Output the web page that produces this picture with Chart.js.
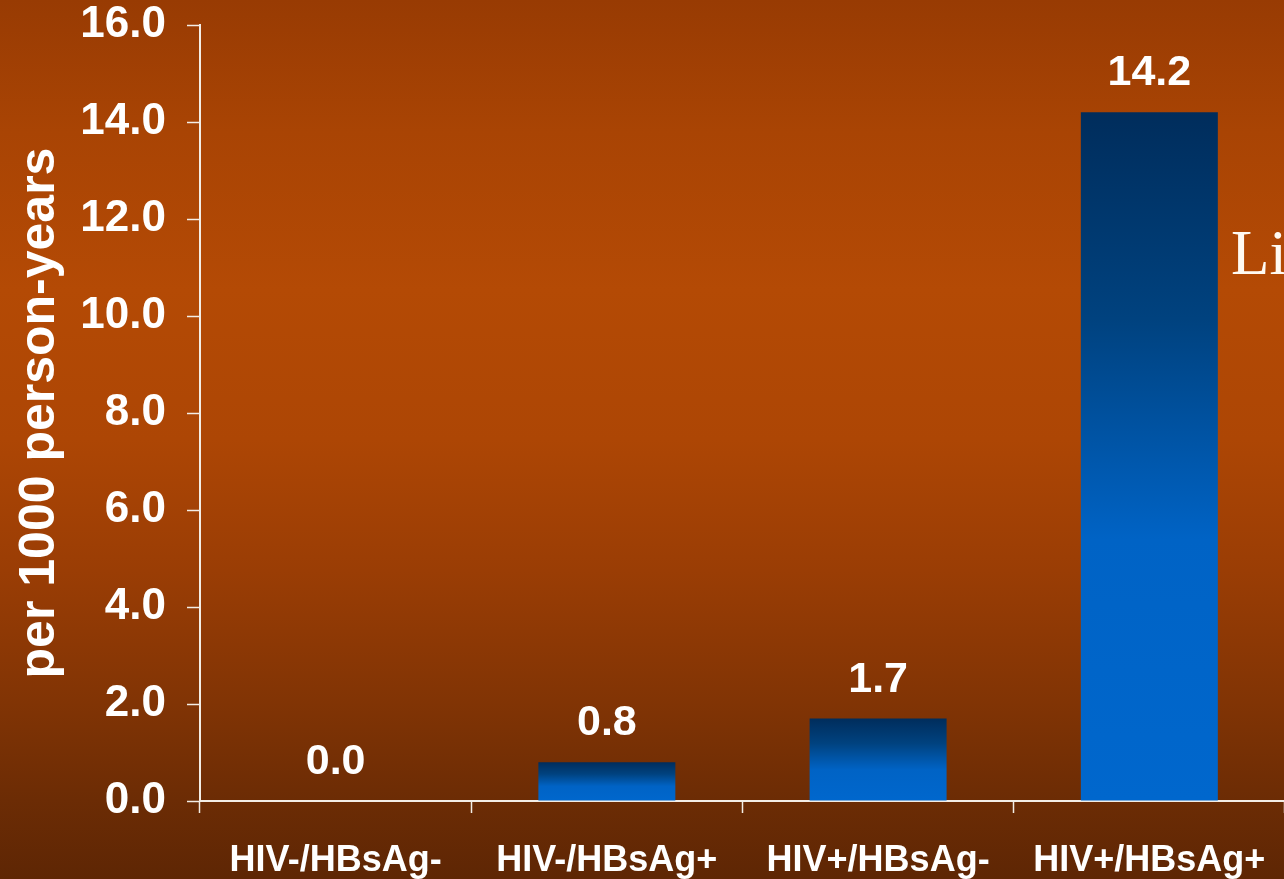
<!DOCTYPE html>
<html>
<head>
<meta charset="utf-8">
<script src="https://cdn.jsdelivr.net/npm/chart.js@4.4.1/dist/chart.umd.min.js"></script>
<style>
  html, body { margin: 0; padding: 0; overflow: hidden; width: 1284px; height: 879px; }
  body {
    background: linear-gradient(to bottom,
      #983b03 0%, #a94404 15%, #b44a05 33%, #ad4605 50%, #9a3d05 65%,
      #813405 80%, #6c2c05 91%, #5e2604 100%);
  }
  #wrap { position: absolute; left: 0; top: 0; width: 1292px; height: 879px; }
</style>
</head>
<body>
<div id="wrap"><canvas id="chart"></canvas></div>
<script>
// Incidence per 1000 person-years by HIV / HBsAg status
const categories = ['HIV-/HBsAg-', 'HIV-/HBsAg+', 'HIV+/HBsAg-', 'HIV+/HBsAg+'];
const rates = [0.0, 0.8, 1.7, 14.2];
const yTicks = [0, 2, 4, 6, 8, 10, 12, 14, 16];
const yTitle = 'per 1000 person-years';
const sideText = 'Li';

const FONT = '"Liberation Sans", Arial, Helvetica, sans-serif';
const INK = '#ffffff';
const AXIS = '#f3ede6';

// Vertical navy-to-blue fill for each bar, spanning the bar's own height
function barFill(context) {
  const chart = context.chart;
  const area = chart.chartArea;
  if (!area) return '#0066cc';
  const y = chart.scales.y;
  const v = context.raw;
  const top = y.getPixelForValue(v);
  const base = y.getPixelForValue(0);
  if (!(base - top > 0.5)) return '#0066cc';
  const g = chart.ctx.createLinearGradient(0, top, 0, base);
  g.addColorStop(0, '#002d5c');
  g.addColorStop(0.3, '#00427f');
  g.addColorStop(0.62, '#0063c5');
  g.addColorStop(1, '#0067cd');
  return g;
}

// Value labels above bars, plus the stray caption at the right edge
const valueLabels = {
  id: 'valueLabels',
  afterDatasetsDraw(chart) {
    const ctx = chart.ctx;
    const meta = chart.getDatasetMeta(0);
    const y = chart.scales.y;
    ctx.save();
    ctx.fillStyle = INK;
    ctx.font = 'bold 43px ' + FONT;
    ctx.textAlign = 'center';
    ctx.textBaseline = 'alphabetic';
    meta.data.forEach((bar, i) => {
      const v = rates[i];
      const top = y.getPixelForValue(v);
      ctx.fillText(v.toFixed(1), bar.x, top - 27);
    });
    ctx.fillStyle = '#fffaf2';
    ctx.font = '63px "Liberation Serif", "Times New Roman", serif';
    ctx.textAlign = 'left';
    ctx.fillText(sideText, 1231, 274);
    ctx.restore();
  }
};

new Chart(document.getElementById('chart'), {
  type: 'bar',
  data: {
    labels: categories,
    datasets: [{
      data: rates,
      backgroundColor: barFill,
      borderWidth: 0,
      categoryPercentage: 1.0,
      barPercentage: 0.505
    }]
  },
  options: {
    responsive: true,
    maintainAspectRatio: false,
    animation: false,
    events: [],
    layout: { padding: { top: 25, right: 5, left: 0, bottom: 0 } },
    plugins: {
      legend: { display: false },
      tooltip: { enabled: false }
    },
    scales: {
      x: {
        offset: true,
        afterFit(scale) { scale.height = 78; },
        grid: {
          display: true,
          offset: true,
          drawOnChartArea: false,
          drawTicks: true,
          tickLength: 12,
          tickWidth: 1.5,
          tickColor: AXIS
        },
        border: { display: true, color: AXIS, width: 2 },
        ticks: {
          color: INK,
          font: { family: FONT, size: 36, weight: 'bold' },
          padding: 26,
          maxRotation: 0,
          autoSkip: false
        }
      },
      y: {
        min: 0,
        max: 16,
        afterFit(scale) {
          scale.width = 200;
          scale.paddingTop = 0;
          scale.paddingBottom = 0;
        },
        afterBuildTicks(scale) { scale.ticks = yTicks.map(v => ({ value: v })); },
        grid: {
          display: true,
          drawOnChartArea: false,
          drawTicks: true,
          tickLength: 13,
          tickWidth: 1.5,
          tickColor: AXIS
        },
        border: { display: true, color: AXIS, width: 2 },
        ticks: {
          color: INK,
          font: { family: FONT, size: 44, weight: 'bold', lineHeight: 1.0 },
          padding: 21,
          callback: (v) => Number(v).toFixed(1)
        },
        title: {
          display: true,
          text: yTitle,
          color: INK,
          font: { family: FONT, size: 50, weight: 'bold', lineHeight: 1.2 },
          padding: { top: 10, bottom: 0 }
        }
      }
    }
  },
  plugins: [valueLabels]
});
</script>
</body>
</html>
